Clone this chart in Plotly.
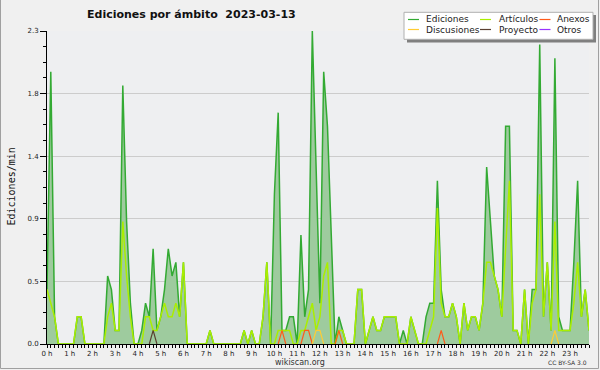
import plotly.graph_objects as go

# ---------------- data (10-minute steps, edits per minute) ----------------
hour_labels = [f"{h} h" for h in range(24)]
slot_hours = [i / 6 for i in range(144)]

ediciones = [
    0.4, 2.0, 0.2, 0, 0, 0, 0, 0, 0.2, 0.2,
    0, 0, 0, 0, 0, 0, 0.5, 0.4, 0.1, 0.1,
    1.9, 0.9, 0.3, 0, 0, 0.1, 0.3, 0.2, 0.7, 0.1,
    0.2, 0.4, 0.7, 0.5, 0.6, 0.2, 0.6, 0, 0, 0,
    0, 0, 0, 0.1, 0, 0, 0, 0, 0, 0,
    0, 0, 0.1, 0, 0.1, 0, 0, 0.2, 0.6, 0,
    1.1, 1.7, 0.1, 0.1, 0.2, 0.2, 0, 0.8, 0.2, 0.4,
    2.3, 1.2, 0.3, 2.0, 1.6, 0.8, 0, 0.2, 0.1, 0,
    0, 0, 0.4, 0.4, 0, 0.1, 0.2, 0.1, 0.1, 0.2,
    0.2, 0.2, 0.2, 0, 0.1, 0, 0.2, 0.1, 0, 0,
    0.2, 0.3, 0.3, 1.2, 0.4, 0.2, 0.2, 0.3, 0.2, 0,
    0.3, 0.1, 0.2, 0.2, 0.1, 0.3, 1.3, 0.9, 0.5, 0.4,
    0.2, 1.6, 1.6, 0.1, 0.1, 0, 0.4, 0, 0.4, 0.4,
    2.2, 0.2, 0.6, 0.1, 2.1, 0.2, 0.1, 0.1, 0.1, 0.6,
    1.2, 0.2, 0.4, 0.1,
]

articulos = [
    0.4, 0.3, 0.2, 0, 0, 0, 0, 0, 0.2, 0.2,
    0, 0, 0, 0, 0, 0, 0.2, 0.3, 0.1, 0.1,
    0.9, 0.5, 0.2, 0, 0, 0, 0.2, 0.2, 0.1, 0.1,
    0.2, 0.3, 0.2, 0.2, 0.3, 0.2, 0.6, 0, 0, 0,
    0, 0, 0, 0.1, 0, 0, 0, 0, 0, 0,
    0, 0, 0.1, 0, 0.1, 0, 0, 0.2, 0.6, 0,
    0, 0.1, 0.1, 0.1, 0.1, 0, 0, 0.1, 0.1, 0.2,
    0.3, 0.1, 0.2, 0.5, 0.6, 0, 0, 0.1, 0.1, 0,
    0, 0, 0.4, 0.4, 0, 0.1, 0.2, 0.1, 0.1, 0.2,
    0.2, 0.2, 0.2, 0, 0, 0, 0.2, 0.1, 0, 0,
    0, 0.1, 0.2, 1.0, 0.3, 0.2, 0.2, 0.3, 0.2, 0,
    0.3, 0.1, 0.2, 0.2, 0.1, 0.3, 0.6, 0.6, 0.5, 0.4,
    0.2, 0.7, 1.2, 0.1, 0.1, 0, 0.4, 0, 0.3, 0.4,
    1.1, 0.2, 0.6, 0.1, 0.9, 0.1, 0.1, 0.1, 0.1, 0.3,
    0.6, 0.2, 0.4, 0.1,
]

# sparse series: slot index -> value
anexos_pts = {62: 0.1, 68: 0.1, 69: 0.1, 77: 0.1, 104: 0.1}
discusiones_pts = {71: 0.1, 72: 0.1, 134: 0.1}
proyecto_pts = {28: 0.1}
otros_pts = {}

anexos = [anexos_pts.get(i, 0) for i in range(144)]
discusiones = [discusiones_pts.get(i, 0) for i in range(144)]
proyecto = [proyecto_pts.get(i, 0) for i in range(144)]
otros = [otros_pts.get(i, 0) for i in range(144)]

y_tick_vals = [0, 0.46, 0.92, 1.38, 1.84, 2.3]
y_tick_text = ["0.0", "0.5", "0.9", "1.4", "1.8", "2.3"]

series_names = ["Ediciones", "Artículos", "Anexos", "Discusiones", "Proyecto", "Otros"]
series_colors = ["#33aa33", "#aaee00", "#ff5a1a", "#ffcc33", "#5a4030", "#9933ff"]

# ---------------- figure ----------------
W, H = 600, 370
L, R, T, B = 47, 11, 31, 26
PW, PH = W - L - R, H - T - B

def px_x(p):
    return (p - L) / PW

def px_y(p):
    return (H - B - p) / PH

fig = go.Figure()

fig.add_trace(go.Scatter(
    x=slot_hours, y=ediciones, mode="lines", name=series_names[0],
    line=dict(color=series_colors[0], width=1.5),
    fill="tozeroy", fillcolor="#9ecb9e", showlegend=False))

def sparse_line(vals):
    out = []
    for i, v in enumerate(vals):
        near = any(vals[j] > 0 for j in range(max(0, i - 1), min(len(vals), i + 2)))
        out.append(v if near else None)
    return out

for name, vals, col, w, sparse in [
    (series_names[1], articulos, series_colors[1], 1.5, False),
    (series_names[2], anexos, series_colors[2], 1.2, True),
    (series_names[3], discusiones, series_colors[3], 1.2, True),
    (series_names[4], proyecto, series_colors[4], 1.2, True),
    (series_names[5], otros, series_colors[5], 1.2, True),
]:
    fig.add_trace(go.Scatter(
        x=slot_hours, y=sparse_line(vals) if sparse else vals,
        mode="lines", name=name,
        line=dict(color=col, width=w), showlegend=False))

fig.update_layout(
    width=W, height=H,
    margin=dict(l=L, r=R, t=T, b=B),
    paper_bgcolor="#f0f0f0",
    plot_bgcolor="#eeeff1",
    font=dict(family="DejaVu Sans", size=7, color="#222"),
    showlegend=False,
)

fig.update_xaxes(
    range=[0, 143 / 6],
    tickvals=list(range(24)), ticktext=hour_labels,
    ticks="outside", ticklen=3, tickcolor="black", tickwidth=1,
    showline=True, linecolor="black", linewidth=1,
    showgrid=False, zeroline=False,
    tickfont=dict(size=7, color="#222"),
    minor=dict(dtick=1 / 6, tick0=0, ticks="outside", ticklen=3,
               tickcolor="black", showgrid=False),
)

fig.update_yaxes(
    range=[0, 2.3],
    tickvals=y_tick_vals, ticktext=y_tick_text,
    ticks="outside", ticklen=6, tickcolor="black", tickwidth=1,
    showline=True, linecolor="black", linewidth=1,
    showgrid=True, gridcolor="#cccccc", gridwidth=1,
    zeroline=False,
    tickfont=dict(size=7, color="#222"),
    minor=dict(dtick=0.115, tick0=0, ticks="outside", ticklen=3,
               tickcolor="black", showgrid=False),
)

ann = []
shapes = []

# title
ann.append(dict(text="<b>Ediciones por ámbito\u00a0\u00a02023-03-13</b>",
                x=px_x(85), y=px_y(14), xref="paper", yref="paper",
                xanchor="left", yanchor="middle", showarrow=False,
                font=dict(family="DejaVu Sans", size=11, color="#111")))
# y title
ann.append(dict(text="Ediciones/min", textangle=-90,
                x=px_x(10.5), y=px_y(187), xref="paper", yref="paper",
                xanchor="center", yanchor="middle", showarrow=False,
                font=dict(family="DejaVu Sans Mono", size=10, color="#111")))
# footer
ann.append(dict(text="wikiscan.org", x=px_x(300), y=px_y(362),
                xref="paper", yref="paper", xanchor="center", yanchor="middle",
                showarrow=False, font=dict(family="DejaVu Sans", size=8, color="#333")))
ann.append(dict(text="CC BY-SA 3.0", x=px_x(589), y=px_y(362),
                xref="paper", yref="paper", xanchor="right", yanchor="middle",
                showarrow=False, font=dict(family="DejaVu Sans", size=6, color="#333")))

# legend (drawn)
shapes.append(dict(type="rect", xref="paper", yref="paper",
                   x0=px_x(407), x1=px_x(596), y0=px_y(15), y1=px_y(42.5),
                   fillcolor="#7f7f7f", line=dict(width=0), layer="above"))
shapes.append(dict(type="rect", xref="paper", yref="paper",
                   x0=px_x(404), x1=px_x(593), y0=px_y(12.3), y1=px_y(39.3),
                   fillcolor="white", line=dict(color="#b0b0b0", width=1), layer="above"))
col_line_x = [408, 480, 539.5]
col_text_x = [424, 497, 555]
row_y = [19.5, 29.5]
for k, (name, col) in enumerate(zip(series_names, series_colors)):
    r, c = divmod(k, 3)
    shapes.append(dict(type="line", xref="paper", yref="paper",
                       x0=px_x(col_line_x[c]), x1=px_x(col_line_x[c] + 11),
                       y0=px_y(row_y[r]), y1=px_y(row_y[r]),
                       line=dict(color=col, width=1.2), layer="above"))
    ann.append(dict(text=name, x=px_x(col_text_x[c]), y=px_y(row_y[r]),
                    xref="paper", yref="paper", xanchor="left", yanchor="middle",
                    showarrow=False,
                    font=dict(family="DejaVu Sans", size=9, color="#222")))

# outer frame
shapes.append(dict(type="rect", xref="paper", yref="paper",
                   x0=px_x(0.5), x1=px_x(598.5), y0=px_y(-5), y1=px_y(368.5),
                   line=dict(color="#a0a0a0", width=1), fillcolor="rgba(0,0,0,0)",
                   layer="above"))

fig.update_layout(annotations=ann, shapes=shapes)

fig.write_html("out.html",
               config={"displayModeBar": False},
               post_script="document.body.style.margin='0px';"
                           "document.body.style.overflow='hidden';")
